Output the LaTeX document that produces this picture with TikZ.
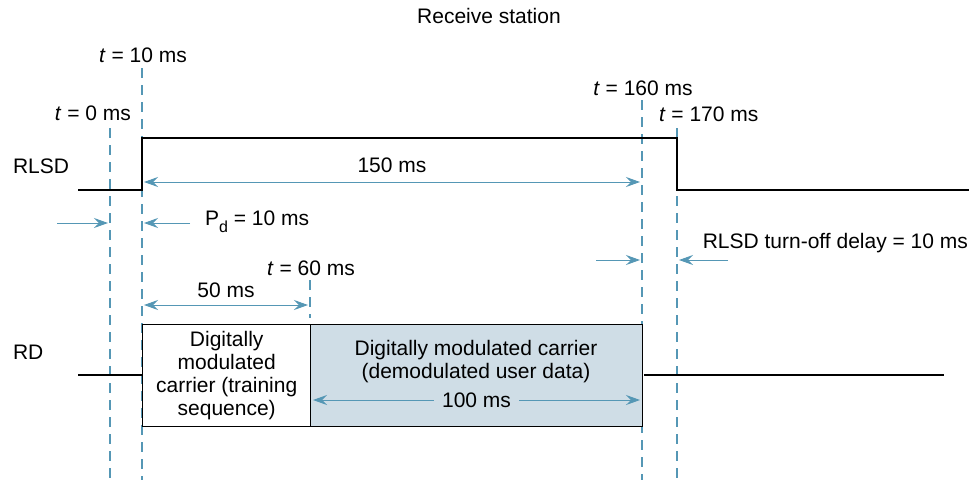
\documentclass[tikz,border=0pt]{standalone}
\usepackage{fontspec}
\setmainfont{Liberation Sans}
\usetikzlibrary{arrows.meta}

\definecolor{markblue}{HTML}{5597B5}
\definecolor{datafill}{HTML}{CFDDE6}

\begin{document}
\begin{tikzpicture}[ >={Stealth[length=7pt,width=5pt,inset=2.5pt]}, x=0.5pt, y=-0.5pt,
  font=\fontsize{10.5}{11.5}\selectfont,
  mark line/.style={markblue, line width=1.2pt, dash pattern=on 5pt off 3.5pt},
  dim/.style={markblue, line width=0.5pt},
  signal/.style={black, line width=1.3pt} ]

\useasboundingbox (0,0) rectangle (979,483);

\node (title) at (489,16) {Receive station};

% time marks
\coordinate (t0a) at (110,128);  \coordinate (t0b) at (110,480);
\coordinate (t10a) at (142,68);  \coordinate (t10b) at (142,480);
\coordinate (t60a) at (310,280); \coordinate (t60b) at (310,318);
\coordinate (t160a) at (642,100); \coordinate (t160b) at (642,480);
\coordinate (t170a) at (677,128); \coordinate (t170b) at (677,480);

\draw[mark line] (t0a) -- (t0b);
\draw[mark line] (t10a) -- (t10b);
\draw[mark line] (t60a) -- (t60b);
\draw[mark line] (t160a) -- (t160b);
\draw[mark line] (t170a) -- (t170b);

\node (lbl0) [anchor=east] at (138,113) {\textit{t} = 0 ms};
\node (lbl10) at (143,55) {\textit{t} = 10 ms};
\node (lbl60) at (311,268) {\textit{t} = 60 ms};
\node (lbl160) at (643,88) {\textit{t} = 160 ms};
\node (lbl170) [anchor=west] at (652,114) {\textit{t} = 170 ms};

% RLSD
\node (rlsd) [anchor=west] at (6,166) {RLSD};
\coordinate (s0) at (78,190);   \coordinate (s1) at (142,190);
\coordinate (s2) at (142,138);  \coordinate (s3) at (677,138);
\coordinate (s4) at (677,190);  \coordinate (s5) at (969,190);
\draw[signal] (s0) -- (s1) -- (s2) -- (s3) -- (s4) -- (s5);

\coordinate (on1) at (144,182); \coordinate (on2) at (640,182);
\draw[dim,<->] (on1) -- (on2) node[midway,above=1pt,text=black] (lbl150) {150 ms};

\coordinate (pd1) at (57,223);  \coordinate (pd2) at (108,223);
\coordinate (pd3) at (190,223); \coordinate (pd4) at (144,223);
\draw[dim,->] (pd1) -- (pd2);
\draw[dim,->] (pd3) -- (pd4);
\node (lblpd) [anchor=west] at (198,222) {P\raisebox{-0.6ex}{\footnotesize d} = 10 ms};

\coordinate (off1) at (596,260); \coordinate (off2) at (640,260);
\coordinate (off3) at (728,260); \coordinate (off4) at (679,260);
\draw[dim,->] (off1) -- (off2);
\draw[dim,->] (off3) -- (off4);
\node (lbloff) [anchor=east] at (975,243) {RLSD turn-off delay = 10 ms};

\coordinate (tr1) at (144,305); \coordinate (tr2) at (308,305);
\draw[dim,<->] (tr1) -- (tr2) node[midway,above=0pt,text=black] (lbl50) {50 ms};

% RD
\node (rd) [anchor=west] at (6,352) {RD};
\node (train) [draw, line width=0.7pt, minimum width=84pt, minimum height=51pt,
  align=center, anchor=north west, inner sep=0pt] at (142,324)
  {Digitally\\modulated\\carrier (training\\sequence)};
\node (data) [draw, line width=0.7pt, fill=datafill, minimum width=166pt, minimum height=51pt,
  anchor=north west] at (310,324) {};
\node (datatxt) [align=center] at (476,362)
  {Digitally modulated carrier\\(demodulated user data)};
\coordinate (r0) at (78,375);  \coordinate (r1) at (644,375); \coordinate (r2) at (944,375);
\draw[signal] (r0) -- (r0 -| train.west);
\draw[signal] (r1) -- (r2);

\coordinate (ud1) at (313,400); \coordinate (ud2) at (640,400);
\draw[dim,<->] (ud1) -- (ud2) node[midway,fill=datafill,text=black,inner xsep=4pt,inner ysep=1pt] (lbl100) {100 ms};

\end{tikzpicture}
\end{document}
